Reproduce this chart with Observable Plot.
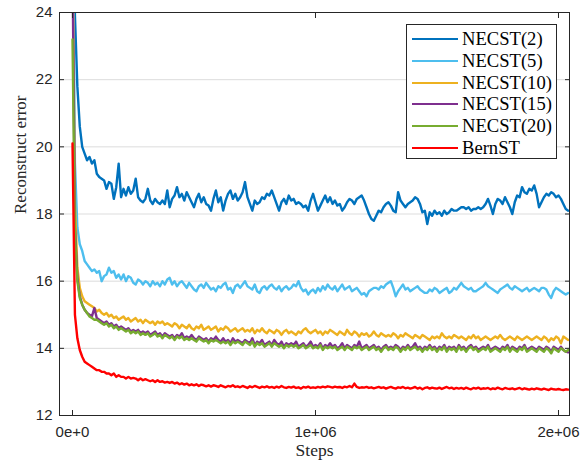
<!DOCTYPE html>
<html><head><meta charset="utf-8">
<script src="https://cdn.jsdelivr.net/npm/d3@7"></script>
<script src="https://cdn.jsdelivr.net/npm/@observablehq/plot@0.6"></script>
<style>
body{margin:0;background:#fff;}
#wrap{position:relative;width:587px;height:464px;}
#legend{position:absolute;left:406px;top:24px;width:151px;height:135px;border:1px solid #262626;background:#fff;box-sizing:border-box;font-family:"Liberation Serif","Times New Roman",serif;font-size:18.6px;color:#000;}
.row{position:absolute;left:0;height:22px;display:flex;align-items:center;white-space:nowrap;}
.sw{width:46px;height:2px;margin-left:5px;margin-right:4px;}
</style>
</head><body><div id="wrap"><div id="legend"></div></div>
<script>
// logging steps (every 10k steps)
const steps = d3.range(0, 2050000, 10000);

const necst2 = [
32,23.9,21.8,20.6,20.0,19.8,19.6,19.7,19.5,19.6,
19.2,19.1,19.05,19.0,18.75,18.95,18.9,18.45,18.8,19.5,
18.5,18.75,18.55,18.8,18.6,18.7,19.05,18.5,18.4,18.35,
18.45,18.75,18.4,18.3,18.45,18.35,18.3,18.4,18.3,18.7,
18.2,18.45,18.55,18.8,18.5,18.6,18.4,18.65,18.5,18.35,
18.2,18.45,18.6,18.35,18.5,18.3,18.25,18.1,18.45,18.7,
18.35,18.5,18.1,18.4,18.6,18.7,18.45,18.6,18.4,18.5,
18.65,18.95,18.5,18.3,18.1,18.4,18.3,18.35,18.5,18.45,
18.6,18.55,18.7,18.5,18.3,18.1,18.35,18.45,18.3,18.55,
18.4,18.45,18.3,18.35,18.3,18.2,18.25,18.1,18.4,18.6,
18.35,18.1,18.25,18.4,18.55,18.35,18.5,18.3,18.4,18.25,
18.3,18.1,18.2,18.35,18.45,18.4,18.3,18.45,18.5,18.55,
18.4,18.2,18.0,17.85,17.8,17.95,18.1,18.05,18.2,18.3,
18.35,18.25,18.1,18.05,18.65,18.4,18.3,18.2,18.3,18.35,
18.4,18.5,18.45,18.3,18.05,18.1,17.7,18.05,17.95,18.1,
18.0,18.05,17.95,18.1,18.0,18.05,18.15,18.1,18.1,18.15,
18.2,18.2,18.15,18.2,18.1,18.15,18.15,18.2,18.15,18.2,
18.3,18.45,18.25,18.0,18.3,18.45,18.4,18.3,18.5,18.35,
18.2,18.0,18.35,18.55,18.5,18.8,18.65,18.6,18.75,18.7,
18.85,18.6,18.2,18.35,18.5,18.6,18.55,18.65,18.6,18.5,
18.55,18.45,18.3,18.15,18.1];

const necst5 = [
28,19.5,17.6,17.1,16.9,16.6,16.5,16.4,16.3,16.35,
16.25,16.3,16.0,16.15,16.2,16.4,16.25,16.3,16.1,16.2,
16.05,16.2,16.0,16.15,16.1,15.95,15.9,16.05,16.0,15.9,
16.0,15.95,15.85,16.0,15.9,15.95,15.85,16.0,15.9,16.05,
16.1,15.9,16.0,15.85,15.95,16.0,15.9,15.8,15.95,15.85,
15.75,15.7,15.85,15.9,15.8,15.95,15.85,15.75,15.8,15.7,
15.85,15.8,15.9,15.95,15.75,15.8,15.65,15.85,15.9,15.8,
15.9,16.0,15.85,15.8,15.75,15.9,15.7,15.65,15.8,15.85,
15.75,15.85,15.9,15.8,15.75,15.85,15.7,15.8,15.85,15.75,
15.8,15.9,15.85,16.0,15.8,15.7,15.75,15.6,15.7,15.75,
15.65,15.8,15.7,15.85,15.75,15.9,15.8,15.75,15.85,15.7,
15.8,15.9,15.75,15.8,15.85,15.7,15.75,15.8,15.7,15.6,
15.65,15.55,15.7,15.75,15.8,15.8,15.75,15.85,15.8,15.9,
15.95,16.0,15.8,15.55,15.7,15.8,15.9,15.75,15.8,15.7,
15.75,15.8,15.85,15.75,15.7,15.65,15.65,15.75,15.7,15.8,
15.75,15.65,15.7,15.75,15.8,15.65,15.7,15.8,15.75,15.85,
15.95,15.85,15.8,15.75,15.8,15.7,15.7,15.75,15.8,15.85,
15.95,15.85,15.8,15.75,15.7,15.65,15.75,15.8,15.85,15.9,
15.8,15.75,15.85,15.8,15.75,15.7,15.75,15.8,15.7,15.75,
15.8,15.75,15.7,15.8,15.8,15.75,15.6,15.5,15.7,15.8,
15.75,15.7,15.65,15.6,15.65];

const necst10 = [
26,18.3,16.4,15.8,15.55,15.4,15.35,15.3,15.25,15.2,
15.1,15.15,15.05,15.0,15.05,14.95,15.0,14.9,14.95,14.85,
14.9,14.95,14.85,14.9,14.8,14.85,14.9,14.8,14.85,14.75,
14.85,14.8,14.75,14.8,14.7,14.8,14.75,14.8,14.7,14.75,
14.7,14.65,14.75,14.7,14.6,14.7,14.65,14.6,14.7,14.6,
14.55,14.65,14.6,14.7,14.55,14.6,14.65,14.55,14.6,14.65,
14.5,14.6,14.55,14.65,14.6,14.5,14.55,14.6,14.5,14.55,
14.6,14.5,14.55,14.5,14.6,14.45,14.55,14.5,14.6,14.5,
14.45,14.55,14.5,14.45,14.55,14.5,14.4,14.5,14.55,14.45,
14.5,14.45,14.4,14.5,14.45,14.55,14.6,14.5,14.45,14.5,
14.55,14.45,14.5,14.4,14.5,14.45,14.55,14.5,14.45,14.4,
14.5,14.45,14.4,14.55,14.45,14.4,14.5,14.45,14.35,14.45,
14.4,14.45,14.35,14.4,14.5,14.4,14.35,14.45,14.4,14.35,
14.4,14.35,14.45,14.4,14.3,14.4,14.35,14.45,14.4,14.35,
14.3,14.4,14.35,14.3,14.4,14.35,14.3,14.25,14.35,14.3,
14.35,14.3,14.45,14.35,14.3,14.35,14.3,14.4,14.35,14.3,
14.35,14.3,14.25,14.35,14.3,14.4,14.3,14.35,14.25,14.3,
14.35,14.3,14.25,14.3,14.35,14.3,14.4,14.3,14.25,14.3,
14.35,14.3,14.25,14.35,14.3,14.25,14.3,14.35,14.3,14.25,
14.3,14.35,14.3,14.25,14.35,14.3,14.2,14.3,14.25,14.35,
14.3,14.15,14.35,14.3,14.25];

const necst15 = [
25.5,17.6,16.1,15.55,15.3,15.15,15.05,15.0,14.95,15.2,
14.9,14.85,14.8,14.75,14.8,14.7,14.75,14.65,14.7,14.6,
14.65,14.6,14.55,14.6,14.5,14.55,14.5,14.55,14.45,14.5,
14.45,14.5,14.4,14.45,14.5,14.4,14.45,14.35,14.45,14.4,
14.35,14.4,14.3,14.4,14.35,14.45,14.3,14.35,14.3,14.4,
14.3,14.25,14.35,14.3,14.25,14.3,14.2,14.3,14.25,14.35,
14.25,14.2,14.3,14.2,14.25,14.15,14.3,14.2,14.25,14.2,
14.15,14.25,14.2,14.15,14.3,14.1,14.2,14.15,14.25,14.1,
14.15,14.2,14.1,14.25,14.15,14.1,14.2,14.05,14.15,14.1,
14.15,14.1,14.2,14.05,14.1,14.15,14.05,14.1,14.2,14.05,
14.1,14.05,14.15,14.0,14.1,14.05,14.15,14.05,14.1,14.0,
14.05,14.15,14.0,14.1,14.05,14.0,14.1,14.05,14.2,14.0,
14.05,14.1,14.0,14.05,14.1,14.0,14.05,13.95,14.05,14.1,
14.0,14.05,14.0,14.1,14.05,13.95,14.05,14.0,14.1,14.0,
14.05,14.15,14.0,14.05,13.95,14.05,14.0,14.1,14.0,14.05,
13.95,14.05,14.0,14.1,13.95,14.05,14.0,14.05,13.95,14.1,
14.0,14.05,13.95,14.05,14.1,14.0,14.05,13.95,14.0,14.05,
14.0,14.1,13.95,14.0,14.05,14.0,13.95,14.05,14.0,14.1,
13.95,14.05,14.0,13.95,14.05,14.0,14.1,13.95,14.0,14.05,
14.0,13.95,14.05,14.0,13.95,14.05,14.0,13.9,14.05,14.0,
13.95,14.05,13.95,13.9,13.88];

const necst20 = [
23.2,17.4,16.0,15.5,15.3,15.15,15.05,14.95,14.9,14.85,
14.85,14.8,14.75,14.7,14.75,14.65,14.7,14.6,14.65,14.55,
14.6,14.55,14.5,14.55,14.45,14.5,14.45,14.5,14.4,14.45,
14.4,14.45,14.35,14.4,14.45,14.35,14.4,14.3,14.4,14.35,
14.3,14.35,14.25,14.35,14.3,14.35,14.25,14.3,14.25,14.3,
14.25,14.2,14.3,14.25,14.2,14.25,14.15,14.25,14.2,14.25,
14.2,14.15,14.2,14.15,14.2,14.1,14.2,14.15,14.2,14.15,
14.1,14.2,14.15,14.1,14.2,14.05,14.15,14.1,14.15,14.05,
14.1,14.15,14.05,14.15,14.1,14.05,14.1,14.0,14.1,14.05,
14.1,14.05,14.1,14.0,14.05,14.1,14.0,14.05,14.1,14.0,
14.05,14.0,14.1,13.95,14.05,14.0,14.05,14.0,14.05,13.95,
14.0,14.05,13.95,14.05,14.0,13.95,14.05,14.0,14.05,13.95,
14.0,14.05,13.95,14.0,14.05,13.95,14.0,13.9,14.0,14.05,
13.95,14.0,13.95,14.05,14.0,13.9,14.0,13.95,14.05,13.95,
14.0,14.05,13.95,14.0,13.9,14.0,13.95,14.05,13.95,14.0,
13.9,14.0,13.95,14.05,13.9,14.0,13.95,14.0,13.9,14.05,
13.95,14.0,13.9,14.0,14.05,13.95,14.0,13.9,13.95,14.0,
13.95,14.05,13.9,13.95,14.0,13.95,13.9,14.0,13.95,14.05,
13.9,14.0,13.95,13.9,14.0,13.95,14.05,13.9,13.95,14.0,
13.95,13.9,14.0,13.95,13.9,14.0,13.95,13.85,14.0,13.95,
13.9,14.0,13.95,13.9,13.95];

const bernst = [
20.1,15.0,14.3,13.95,13.75,13.6,13.55,13.5,13.45,13.4,
13.35,13.35,13.3,13.3,13.25,13.25,13.2,13.25,13.15,13.2,
13.15,13.15,13.1,13.15,13.1,13.12,13.1,13.05,13.1,13.05,
13.08,13.05,13.02,13.05,13.0,13.05,13.0,13.02,12.98,13.0,
12.97,13.0,12.95,12.98,12.93,12.96,12.92,12.95,12.9,12.93,
12.9,12.93,12.88,12.92,12.9,12.87,12.9,12.86,12.9,12.88,
12.85,12.9,12.87,12.84,12.88,12.86,12.9,12.85,12.87,12.84,
12.88,12.85,12.82,12.87,12.84,12.88,12.85,12.82,12.86,12.84,
12.87,12.83,12.85,12.82,12.86,12.83,12.88,12.84,12.82,12.85,
12.83,12.86,12.82,12.84,12.8,12.85,12.83,12.86,12.82,12.84,
12.82,12.85,12.83,12.86,12.84,12.87,12.85,12.83,12.86,12.84,
12.85,12.82,12.86,12.84,12.88,12.84,12.95,12.85,12.82,12.84,
12.83,12.85,12.82,12.84,12.81,12.83,12.85,12.82,12.84,12.8,
12.83,12.85,12.82,12.8,12.84,12.82,12.85,12.81,12.83,12.8,
12.82,12.85,12.8,12.83,12.78,12.82,12.84,12.8,12.83,12.81,
12.8,12.83,12.79,12.82,12.85,12.81,12.83,12.79,12.82,12.8,
12.82,12.79,12.83,12.8,12.78,12.82,12.8,12.83,12.79,12.81,
12.8,12.82,12.78,12.81,12.79,12.83,12.8,12.78,12.82,12.8,
12.79,12.81,12.78,12.8,12.82,12.78,12.81,12.79,12.77,12.8,
12.78,12.81,12.79,12.77,12.8,12.78,12.76,12.8,12.78,12.77,
12.79,12.77,12.76,12.78,12.77];

const seriesNames = ["NECST(2)","NECST(5)","NECST(10)","NECST(15)","NECST(20)","BernST"];
const seriesValues = [necst2, necst5, necst10, necst15, necst20, bernst];
const seriesColors = ["#0072BD","#4DBEEE","#EDB120","#7E2F8E","#77AC30","#FF0000"];
const yTicks = [12,14,16,18,20,22,24];
const gridTicks = [14,16,18,20,22];
const xTicks = [0,1e6,2e6];
const xTickLabels = ["0e+0","1e+06","2e+06"];

const rows = [];
seriesValues.forEach((vals, s) => vals.forEach((v, i) => rows.push({series: seriesNames[s], step: steps[i], value: v})));

const axisColor = "#262626";
const blank = () => "";
const plot = Plot.plot({
  width: 587, height: 464,
  marginLeft: 59, marginRight: 18, marginTop: 12, marginBottom: 49,
  style: {fontFamily: "'Liberation Sans', Arial, sans-serif", fontSize: "15px", background: "white", color: axisColor, overflow: "visible"},
  x: {domain: [-53500, 2045300]},
  y: {domain: [12, 24]},
  color: {domain: seriesNames, range: seriesColors},
  marks: [
    Plot.gridY(gridTicks, {stroke: axisColor, strokeOpacity: 0.16, strokeWidth: 1}),
    ...seriesNames.map(name => Plot.line(rows.filter(d => d.series === name), {x: "step", y: "value", stroke: "series", strokeWidth: 2.4, clip: true})),
    Plot.frame({stroke: axisColor, strokeWidth: 1}),
    Plot.axisY(yTicks, {anchor: "left", tickSize: 0, tickPadding: 7, label: null, fill: axisColor}),
    Plot.axisY(yTicks, {anchor: "left", tickSize: 5, dx: 5, tickFormat: blank, label: null, stroke: axisColor}),
    Plot.axisY(yTicks, {anchor: "right", tickSize: 5, dx: -5, tickFormat: blank, label: null, stroke: axisColor}),
    Plot.axisX(xTicks, {anchor: "bottom", tickSize: 0, tickPadding: 11, tickFormat: d => xTickLabels[xTicks.indexOf(d)], label: null, fill: axisColor}),
    Plot.axisX(xTicks, {anchor: "bottom", tickSize: 5, dy: -5, tickFormat: blank, label: null, stroke: axisColor}),
    Plot.axisX(xTicks, {anchor: "top", tickSize: 5, dy: 5, tickFormat: blank, label: null, stroke: axisColor}),
    Plot.text(["Steps"], {frameAnchor: "bottom", dy: 40, text: d => d, fontFamily: "'Liberation Serif', 'Times New Roman', serif", fontSize: 17.5, fill: axisColor}),
    Plot.text(["Reconstruct error"], {frameAnchor: "left", dx: -39, rotate: -90, text: d => d, fontFamily: "'Liberation Serif', 'Times New Roman', serif", fontSize: 17, fill: axisColor})
  ]
});
document.getElementById("wrap").prepend(plot);

const legend = document.getElementById("legend");
seriesNames.forEach((name, i) => {
  const row = document.createElement("div");
  row.className = "row";
  row.style.top = Math.round(3 + i * 21.8) + "px";
  const sw = document.createElement("span");
  sw.className = "sw";
  sw.style.background = seriesColors[i];
  const label = document.createElement("span");
  label.textContent = name;
  row.append(sw, label);
  legend.append(row);
});
</script>
</body></html>
